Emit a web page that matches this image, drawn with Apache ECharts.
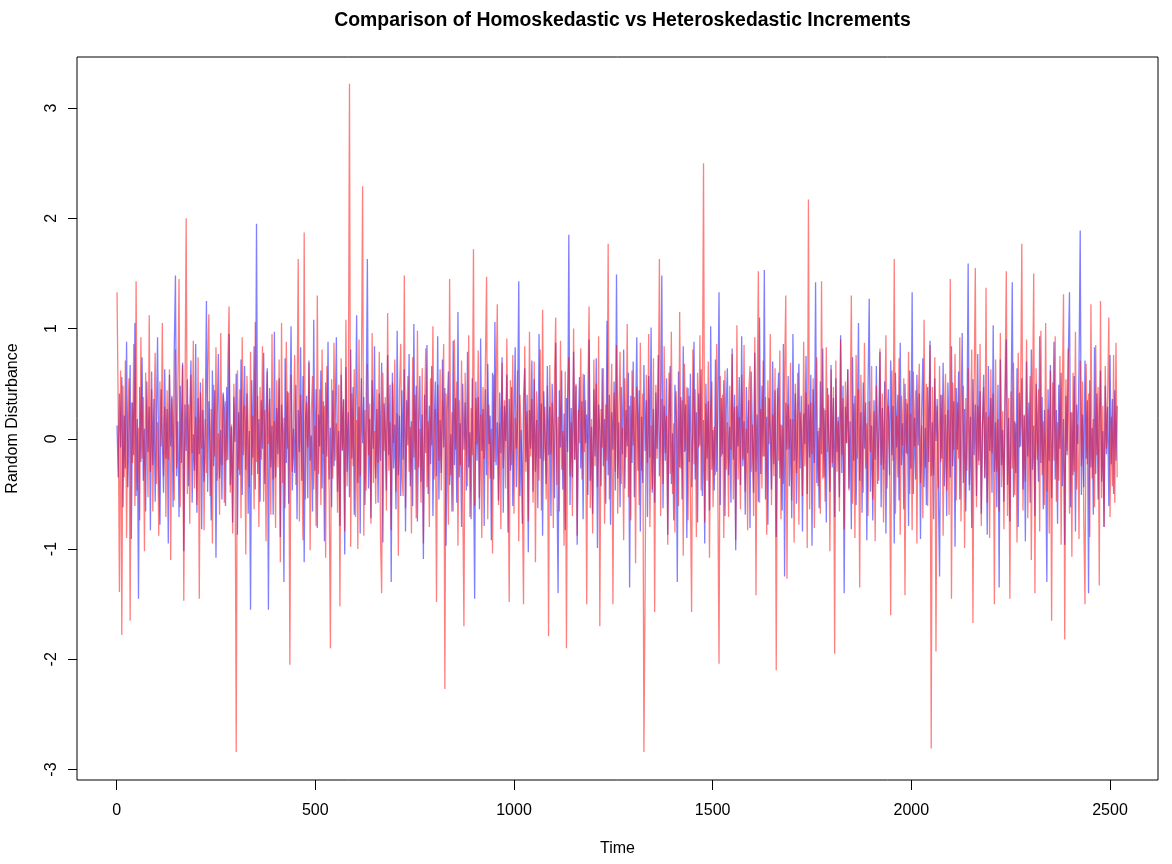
<!DOCTYPE html>
<html><head><meta charset="utf-8">
<script src="https://cdn.jsdelivr.net/npm/echarts@6/dist/echarts.min.js"></script>
<style>html,body{margin:0;padding:0;background:#fff}#c{width:1172px;height:864px}</style>
</head><body><div id="c"></div>
<script>
// Homoskedastic increments (blue), read every 3rd time step
const homoskedastic = [
0.12,-0.35,0.41,-0.08,0.56,-0.62,0.21,-0.27,0.88,-0.44,0.05,0.67,-0.91,0.33,-0.15,1.05,-0.52,0.18,-1.45,0.47,-0.21,0.74,-0.38,0.09,-0.66,0.52,-0.12,0.29,-0.83,0.61,
-0.24,0.36,-0.57,0.14,0.92,-0.31,-0.78,0.45,0.02,-0.49,0.63,-0.18,0.27,-0.95,0.58,-0.07,0.39,-0.62,0.81,1.48,-0.34,0.16,-0.71,0.48,-0.22,0.69,-1.02,0.31,-0.11,0.54,
-0.43,0.22,0.71,-0.58,0.04,-0.29,0.86,-0.67,0.37,-0.14,0.51,-0.82,0.26,-0.39,0.13,1.25,-0.48,0.34,-0.06,-0.74,0.62,-0.25,0.44,-1.08,0.19,0.77,-0.36,0.08,-0.55,0.42,
0.28,-0.61,0.47,-0.19,0.95,-0.42,0.11,-0.76,0.38,-0.03,0.59,-0.87,0.24,-0.33,0.72,-0.51,0.15,0.66,-0.28,0.41,-0.68,0.07,-1.55,0.53,-0.17,0.84,-0.46,1.95,-0.32,0.18,
-0.57,0.35,-0.09,0.78,-0.41,0.23,0.64,-1.55,0.46,-0.26,0.12,-0.69,0.97,-0.35,0.28,-0.14,0.55,-0.89,0.31,0.06,-1.3,0.73,-0.22,0.43,-0.59,0.17,1.02,-0.47,0.09,-0.31,
0.49,-0.73,0.26,-0.12,0.83,-0.38,0.57,-1.12,0.14,0.39,-0.54,0.71,-0.2,0.03,-0.66,1.08,-0.29,0.45,-0.81,0.22,-0.07,0.62,-0.45,0.34,-0.93,0.51,-0.16,0.88,-0.37,0.1,
-0.62,0.44,-0.25,0.19,0.92,-0.48,0.07,-0.79,0.58,-0.11,0.36,-1.05,0.65,-0.3,0.24,-0.53,0.81,-0.18,0.47,-0.69,0.12,1.12,-0.4,0.29,-0.86,0.55,-0.04,0.38,-0.6,0.2,
1.63,-0.45,0.18,-0.72,0.53,-0.09,0.84,-0.36,0.27,-0.58,0.41,-0.2,0.69,-0.94,0.32,0.05,-0.47,0.76,-0.15,0.49,-1.3,0.6,-0.27,0.13,-0.64,0.98,-0.33,0.21,-0.52,0.44,
-0.19,0.63,-0.84,0.35,-0.06,0.77,-0.43,0.16,-0.61,1.04,-0.28,0.48,-0.75,0.09,0.57,-0.39,0.22,-1.09,0.4,-0.13,0.85,-0.5,0.3,-0.23,0.66,-0.7,0.11,0.52,-0.34,0.93,
-0.55,0.17,-0.31,0.72,-0.08,0.46,-0.97,0.25,0.61,-0.42,0.04,-0.66,0.89,-0.24,0.37,-0.58,1.15,-0.35,0.14,-0.8,0.5,-0.1,0.33,-0.47,0.79,-0.26,0.06,-0.73,0.55,-0.16,
-1.45,0.52,-0.2,0.38,-0.64,0.91,-0.11,0.27,-0.79,0.45,-0.33,0.68,-0.05,0.21,-0.92,0.6,-0.37,1.06,-0.24,0.15,-0.56,0.42,-0.13,0.74,-0.67,0.3,-0.02,0.58,-0.85,0.36,
-0.29,0.47,-0.61,0.12,0.83,-0.44,0.19,1.43,-0.52,0.08,-0.77,0.35,0.64,-0.21,0.4,-1.03,0.26,-0.09,0.71,-0.48,0.54,-0.3,0.17,-0.63,0.95,-0.18,0.32,-0.88,0.43,0.02,
-0.41,0.66,-0.15,0.29,-0.7,0.5,0.1,-0.54,0.87,-0.32,-1.4,0.44,-0.08,0.62,-0.46,0.23,-0.83,0.37,-0.12,1.85,-0.6,0.28,-0.35,0.79,-0.19,0.48,-0.96,0.14,0.56,-0.27,
0.34,-0.73,0.58,-0.04,0.22,-0.51,0.9,-0.38,0.11,-0.68,0.45,-0.16,0.73,-0.99,0.31,0.07,-0.43,0.64,-0.25,0.18,-0.59,1.07,-0.33,0.4,-0.78,0.24,-0.1,0.52,-0.47,1.49,
-0.36,0.15,-0.62,0.47,-0.14,0.81,-0.45,0.26,-0.07,0.6,-1.35,0.39,-0.22,0.7,-0.53,0.12,0.92,-0.29,0.44,-0.84,0.2,-0.4,0.67,-0.11,0.35,-0.71,0.57,-0.17,1.01,-0.49,
0.27,-0.58,0.42,-0.09,0.76,-0.34,0.13,1.48,-0.63,0.3,-0.2,0.55,-0.87,0.19,0.66,-0.41,0.05,-0.74,0.49,0.21,-1.3,0.61,-0.26,0.38,-0.55,0.84,-0.12,0.31,-0.9,0.46,
-0.21,0.59,-0.44,0.1,0.88,-0.37,0.24,-0.76,0.41,-0.06,0.63,-0.52,0.17,-0.95,0.5,-0.18,0.34,-0.65,1.02,-0.28,0.08,-0.47,0.72,-0.3,0.2,1.33,-0.6,0.37,-0.14,0.53,
-0.7,0.25,0.64,-0.33,0.11,-0.58,0.82,-0.19,0.4,-1.01,0.3,-0.07,0.56,-0.42,0.93,-0.25,0.16,-0.69,0.47,-0.13,0.35,-0.81,0.61,0.03,-0.49,0.78,-0.3,0.22,-0.57,1.1,
-0.32,0.48,-0.16,1.53,-0.55,0.2,-0.78,0.37,0.09,-0.46,0.7,-0.23,0.44,-0.89,0.28,0.6,-0.36,0.13,-0.65,0.86,-1.25,0.33,-0.1,0.57,-0.43,0.18,-0.72,0.95,-0.2,0.41,
-0.59,0.14,0.68,-0.27,0.39,-0.84,0.23,-0.05,0.75,-0.5,0.31,-0.17,0.58,-0.97,0.45,-0.22,1.42,-0.4,0.07,-0.63,0.52,-0.14,0.82,-0.35,0.26,-0.76,0.46,0.02,-0.48,0.67,
-0.26,0.37,-0.71,0.55,-0.12,0.2,-0.53,0.94,-0.31,0.48,-1.4,0.29,-0.04,0.63,-0.45,0.16,-0.82,0.74,-0.2,0.39,-0.6,0.11,1.05,-0.38,0.24,-0.67,0.51,-0.09,0.33,-0.92,
0.43,1.27,-0.48,0.12,-0.74,0.35,-0.19,0.66,-0.41,0.05,0.79,-0.62,0.28,-0.28,0.52,-0.86,0.17,0.45,-0.33,0.71,-0.15,0.3,-0.95,0.6,-0.08,0.4,-0.56,0.87,-0.24,0.14,
-0.64,0.5,-0.13,0.32,-0.79,0.62,-0.27,1.33,-0.5,0.19,-0.37,0.58,-0.06,0.41,-0.91,0.25,0.73,-0.44,0.1,-0.6,0.47,-0.21,0.89,-0.34,0.15,-0.73,0.55,-0.02,0.36,-0.48,
-1.25,0.4,-0.18,0.69,-0.43,0.22,-0.7,0.51,0.06,-0.35,0.84,-0.25,0.34,-0.98,0.46,-0.1,0.61,-0.55,0.18,0.96,-0.4,0.27,-0.66,0.13,1.59,-0.47,0.2,-0.81,0.54,-0.15,
0.31,-0.52,0.77,-0.2,0.43,-0.68,0.09,0.58,-0.36,0.24,-0.87,0.66,-0.11,0.37,-0.49,1.03,-0.3,0.15,-0.62,0.49,-1.35,0.72,-0.24,0.08,-0.57,0.35,0.9,-0.42,0.19,-0.75,
0.28,1.42,-0.53,0.16,-0.31,0.64,-0.8,0.42,-0.07,0.55,-0.46,0.21,-0.93,0.7,-0.16,0.33,-0.58,0.81,-0.28,0.12,-0.7,0.5,0.04,-0.39,0.93,-0.22,0.38,-0.64,0.26,-0.12,
-1.3,0.45,-0.2,0.67,-0.54,0.13,0.88,-0.37,0.26,-0.77,0.49,-0.09,0.6,-0.43,0.18,-0.96,0.39,-0.15,0.74,1.33,-0.62,0.24,-0.33,0.57,-0.84,0.31,-0.05,0.66,1.89,-0.51,
0.22,-0.44,0.71,-0.18,0.35,-1.4,0.53,-0.26,0.1,-0.69,0.83,-0.32,0.41,-0.55,0.17,0.62,-0.39,0.07,-0.8,0.48,-0.14,0.29,-0.61,0.76,-0.23,0.36,-0.5,0.44,-0.2,0.3
];
// Heteroskedastic increments (red), read every 3rd time step
const heteroskedastic = [
1.33,0.25,-1.39,0.62,-1.78,0.48,-0.35,0.71,-0.9,0.14,0.55,-1.65,0.33,-0.22,0.86,-0.61,1.43,-0.47,0.1,-0.74,0.92,-0.18,0.38,-1.02,0.6,0.04,-0.53,1.12,-0.3,0.45,
-0.66,0.2,0.78,-0.41,0.15,-0.88,0.52,-0.07,1.05,-0.34,0.29,-0.71,0.44,-0.19,0.63,-1.1,0.37,0.08,-0.56,0.81,-0.27,0.46,1.45,-0.62,0.12,0.67,-1.47,0.35,2.0,-0.5,
0.31,-0.77,0.58,-0.13,0.89,-0.45,0.2,-0.6,0.74,-1.45,0.42,-0.09,0.55,-0.83,0.18,-0.31,0.66,1.13,-0.52,0.27,-0.95,0.49,-0.16,0.83,-0.38,0.05,-0.69,0.96,-0.24,0.4,
-0.58,0.34,-0.2,0.7,1.2,-0.49,0.13,-0.86,0.5,-0.11,-2.84,0.62,-0.28,0.45,-0.72,0.92,-0.15,0.3,-1.05,0.57,0.08,-0.44,0.79,-0.33,0.21,-0.64,1.06,-0.21,0.39,-0.8,
0.47,-0.19,0.84,-0.57,0.26,-0.93,0.61,-0.05,0.36,-0.69,0.95,-0.37,0.16,-0.81,0.53,-0.26,0.72,-1.12,1.05,-0.4,0.19,-0.63,0.88,-0.09,0.42,-2.05,0.58,-0.3,0.11,0.76,
-0.42,0.28,1.63,-0.75,0.4,-0.17,-0.92,1.87,-0.55,0.33,-0.08,0.69,-1.01,0.24,0.57,-0.46,0.12,-0.79,1.3,-0.32,0.45,-0.6,0.81,-0.14,0.3,-1.08,0.66,0.05,-0.51,-1.9,
0.54,-0.36,0.87,-0.2,0.14,-0.67,0.49,-1.52,0.73,-0.1,0.35,-0.84,1.08,-0.43,0.2,3.22,-0.98,0.41,-0.25,0.63,-0.71,0.17,-1.0,0.9,-0.34,0.52,2.29,-0.88,0.26,-0.47,
0.68,-0.15,0.32,-0.77,0.96,-0.4,0.07,-0.59,0.45,-0.22,0.79,-0.9,-1.4,0.6,-0.11,0.38,-0.65,1.14,-0.29,0.15,-0.83,0.51,-0.04,0.72,-0.48,0.23,-1.06,0.44,0.86,-0.35,
-0.52,1.48,-0.63,0.21,0.57,-0.3,0.11,-0.86,0.74,-0.17,0.4,-0.72,0.98,-0.26,0.09,-0.58,0.64,-0.95,0.3,0.82,-0.44,0.16,-0.8,0.55,-0.06,1.02,-0.37,0.27,-1.48,0.49,
-0.2,0.63,-0.47,0.18,0.86,-2.27,0.41,-0.12,-0.78,1.45,-0.33,0.24,-0.66,0.9,-0.1,0.52,-0.97,0.35,-0.24,0.71,-0.5,-1.7,0.6,0.02,-0.43,0.94,-0.71,0.28,-0.15,1.72,
-0.61,0.37,-0.05,0.8,-0.54,0.22,-0.9,0.47,-0.18,0.66,1.47,-0.73,0.31,-0.36,0.09,-1.04,0.58,-0.21,0.44,1.22,-0.6,0.14,-0.82,0.69,-0.27,0.35,-0.45,0.91,-0.1,-1.48,
0.53,-0.24,0.76,-0.68,0.19,-0.09,0.62,-0.93,0.4,0.06,-0.49,-1.5,0.84,-0.3,0.25,-0.75,0.97,-0.16,0.36,-0.58,0.7,-1.12,0.43,0.1,-0.38,0.81,-0.65,1.17,-0.2,0.29,
-0.55,0.48,-1.79,0.67,-0.14,0.33,-0.81,0.56,1.1,-0.42,0.2,-0.66,0.89,-0.28,0.07,-0.97,0.61,-1.9,0.39,0.74,-0.34,0.15,-0.7,1.0,-0.19,0.5,-0.88,0.26,-0.04,0.82,
-0.37,0.59,-0.12,0.35,-1.5,0.45,1.2,-0.63,0.18,-0.86,0.72,-0.25,0.5,-0.44,0.93,-1.7,0.27,-0.08,0.64,-0.77,0.31,-0.2,1.77,-0.55,0.13,0.68,-1.5,0.42,-0.3,0.85,
-0.68,0.24,0.79,-0.41,0.1,-0.92,0.55,-0.17,1.04,-0.53,0.3,-0.74,0.62,-0.06,0.38,-1.13,0.47,0.16,-0.6,0.87,-0.29,0.41,-2.84,-1.35,0.58,-0.22,0.95,-0.8,0.12,-0.46,
0.73,-1.57,0.49,-0.18,0.28,1.63,-0.7,0.36,-0.41,0.84,-0.13,0.21,-0.96,0.6,-0.32,0.97,-0.5,0.14,-0.85,0.43,0.02,-0.61,1.15,-0.27,0.35,-1.06,0.68,-0.11,0.47,-0.74,
0.39,-0.52,-1.57,0.81,-0.23,0.45,-0.89,0.6,-0.08,0.94,-0.47,0.17,2.5,-0.76,0.32,-0.38,0.7,-1.08,0.25,0.52,-0.62,0.11,-0.33,0.86,-0.45,-2.04,0.57,-0.16,0.4,-0.9,
0.62,-0.28,0.15,-0.71,0.48,-0.1,0.77,-0.55,0.29,-0.92,1.03,-0.37,0.2,-0.64,0.58,-0.19,0.85,-0.48,0.09,-0.83,0.44,0.66,-0.3,0.13,-0.7,0.92,-1.42,0.34,1.52,-0.58,
0.27,-0.45,0.71,-0.16,0.38,-0.87,0.53,-0.05,0.95,-0.6,0.22,-0.34,0.64,-2.1,0.46,-0.2,0.8,-0.73,0.12,-0.41,0.57,1.3,-1.27,0.31,-0.09,0.69,-0.56,0.18,-0.94,0.5,
-0.31,0.6,-0.78,0.24,0.07,-0.52,0.88,-0.25,0.42,-0.99,2.17,-0.64,0.33,-0.14,0.55,-0.81,0.19,0.74,-0.43,0.1,-0.68,1.43,-0.36,0.28,-0.57,0.83,-0.12,0.4,-1.02,0.63,
-0.22,0.47,-1.95,0.71,-0.3,0.16,-0.66,0.9,-0.15,0.37,-0.82,0.52,-0.04,0.63,-0.47,0.2,1.3,-0.59,0.32,-0.9,0.76,-0.18,0.45,-1.35,0.58,0.03,-0.49,0.87,-0.27,0.14,
-0.7,0.34,-0.12,0.66,-0.55,0.25,-0.93,0.48,0.05,-0.38,0.82,-0.24,0.41,-0.76,0.17,0.94,-0.45,0.3,-0.1,-1.6,0.62,-0.2,1.63,-0.68,0.21,-0.35,0.73,-0.87,0.39,-0.06,
0.55,-1.42,0.36,-0.14,0.79,-0.5,0.23,-0.83,0.61,-0.07,0.44,-0.95,0.28,0.68,-0.4,0.12,-0.72,1.08,-0.26,0.5,-0.61,0.19,0.85,-2.81,0.47,-0.33,0.74,-1.93,0.3,-0.45,
0.66,-0.21,0.4,-0.88,0.15,0.59,-0.47,0.26,-0.69,1.45,-1.45,0.51,-0.1,0.77,-0.56,0.33,-0.18,0.92,-0.75,0.2,0.48,-0.99,0.37,-0.29,0.64,-0.42,0.09,0.81,-1.67,0.44,
1.55,-0.62,0.3,-0.24,0.86,-0.79,0.12,0.47,-0.35,1.37,-0.58,0.2,-0.9,0.63,-0.13,0.41,-1.5,0.72,-0.3,0.18,-0.66,0.96,-0.44,0.25,-0.82,0.54,1.52,-0.7,0.37,-1.45,
0.43,-0.27,0.69,-0.51,0.14,-0.94,0.78,-0.08,0.35,1.77,-0.65,0.22,-0.39,0.9,-0.72,0.06,0.57,-1.1,0.31,1.5,-1.4,0.64,-0.19,0.45,-0.84,0.98,-0.33,0.16,-0.6,1.05,
-0.48,0.27,-0.86,0.62,-1.65,0.51,-0.2,0.93,-0.57,0.15,-0.38,0.75,-0.96,0.4,1.31,-1.82,0.54,-0.11,0.82,-0.68,0.24,-1.07,0.6,-0.3,0.97,-0.46,0.13,-0.91,0.71,-0.25,
0.52,-0.74,-1.5,0.68,-0.23,0.41,-0.89,1.22,-0.36,0.18,-0.62,0.85,-0.15,0.47,-1.33,1.25,-0.54,0.3,-0.8,0.66,-0.09,0.38,1.1,-0.71,0.2,-0.43,0.76,-0.58,0.87,-0.35
];
const xTicks = [0, 500, 1000, 1500, 2000, 2500];
const yTicks = [-3, -2, -1, 0, 1, 2, 3];
const timeStep = 3;
const time = homoskedastic.map((_, i) => 1 + i * timeStep);

const FONT = 'Liberation Sans, Arial, Helvetica, sans-serif';
const chart = echarts.init(document.getElementById('c'), null, {renderer: 'canvas', width: 1172, height: 864});
chart.setOption({
  animation: false,
  backgroundColor: '#ffffff',
  title: {
    text: 'Comparison of Homoskedastic vs Heteroskedastic Increments',
    left: 617.5, textAlign: 'center', top: 6,
    textStyle: {fontFamily: FONT, fontWeight: 'bold', fontSize: 19.4, color: '#000'}
  },
  grid: {left: 77, right: 14, top: 57, bottom: 84, show: true, borderColor: '#000', borderWidth: 1,
         backgroundColor: 'transparent', containLabel: false, outerBoundsMode: 'none'},
  xAxis: {
    type: 'value', min: -99.76, max: 2620.76,
    name: 'Time', nameLocation: 'middle', nameGap: 61,
    nameTextStyle: {fontFamily: FONT, fontSize: 16, color: '#000'},
    axisLine: {show: false, onZero: false}, splitLine: {show: false},
    axisTick: {show: true, length: 10, lineStyle: {color: '#000'}, customValues: xTicks},
    axisLabel: {fontFamily: FONT, fontSize: 16, color: '#000', margin: 23, customValues: xTicks,
                formatter: v => String(v)}
  },
  yAxis: {
    type: 'value', min: -3.095, max: 3.463,
    name: 'Random Disturbance', nameLocation: 'middle', nameGap: 56, nameRotate: 90,
    nameTextStyle: {fontFamily: FONT, fontSize: 16, color: '#000'},
    axisLine: {show: false, onZero: false}, splitLine: {show: false},
    axisTick: {show: true, length: 9, lineStyle: {color: '#000'}, customValues: yTicks},
    axisLabel: {fontFamily: FONT, fontSize: 16, color: '#000', margin: 17, rotate: 90, customValues: yTicks,
                formatter: v => String(v)}
  },
  series: [
    {
      name: 'Homoskedastic', type: 'line', symbol: 'none', showSymbol: false, silent: true,
      data: time.map((t, i) => [t, homoskedastic[i]]),
      lineStyle: {color: 'rgba(0,0,255,0.5)', width: 1.3}, itemStyle: {color: 'rgba(0,0,255,0.5)'}
    },
    {
      name: 'Heteroskedastic', type: 'line', symbol: 'none', showSymbol: false, silent: true,
      data: time.map((t, i) => [t, heteroskedastic[i]]),
      lineStyle: {color: 'rgba(255,0,0,0.5)', width: 1.3}, itemStyle: {color: 'rgba(255,0,0,0.5)'}
    }
  ]
});
</script>
</body></html>
